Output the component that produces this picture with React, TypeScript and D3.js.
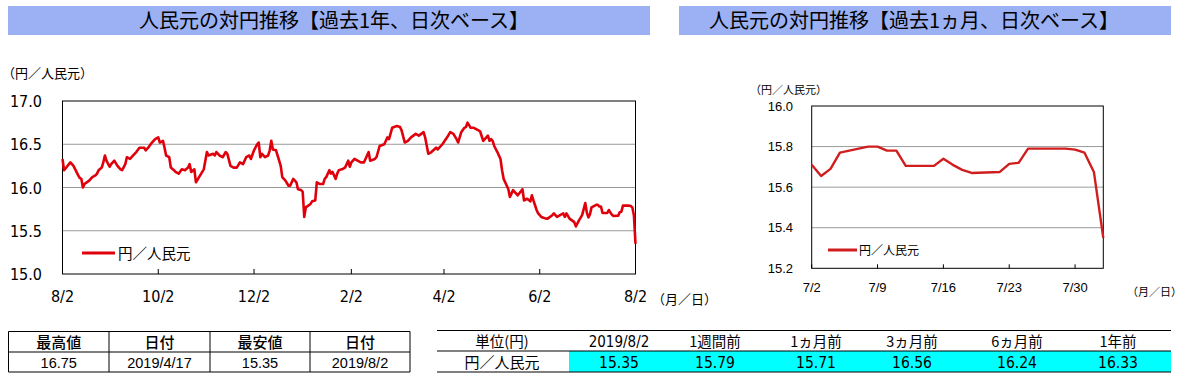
import React from "react";
import * as d3 from "d3";

// ---------- data ----------
const yearDates = [
  "2018-08-02","2018-08-03","2018-08-07","2018-08-09","2018-08-12","2018-08-13","2018-08-14","2018-08-15","2018-08-16","2018-08-19",
  "2018-08-21","2018-08-23","2018-08-24","2018-08-25","2018-08-27","2018-08-28","2018-08-29","2018-08-30","2018-09-01","2018-09-02",
  "2018-09-04","2018-09-06","2018-09-08","2018-09-09","2018-09-11","2018-09-12","2018-09-14","2018-09-16","2018-09-18","2018-09-20",
  "2018-09-23","2018-09-24","2018-09-26","2018-09-28","2018-09-30","2018-10-02","2018-10-03","2018-10-05","2018-10-06","2018-10-07",
  "2018-10-09","2018-10-10","2018-10-12","2018-10-13","2018-10-15","2018-10-17","2018-10-19","2018-10-21","2018-10-22","2018-10-23",
  "2018-10-25","2018-10-26","2018-10-28","2018-10-30","2018-10-31","2018-11-02","2018-11-03","2018-11-06","2018-11-07","2018-11-08",
  "2018-11-10","2018-11-12","2018-11-14","2018-11-15","2018-11-17","2018-11-19","2018-11-21","2018-11-23","2018-11-25","2018-11-27",
  "2018-11-29","2018-11-30","2018-12-02","2018-12-04","2018-12-05","2018-12-06","2018-12-07","2018-12-09","2018-12-11","2018-12-12",
  "2018-12-13","2018-12-14","2018-12-16","2018-12-17","2018-12-19","2018-12-20","2018-12-22","2018-12-24","2018-12-25","2018-12-27",
  "2018-12-29","2018-12-30","2019-01-01","2019-01-02","2019-01-03","2019-01-04","2019-01-07","2019-01-08","2019-01-10","2019-01-11",
  "2019-01-13","2019-01-15","2019-01-16","2019-01-17","2019-01-19","2019-01-20","2019-01-21","2019-01-23","2019-01-24","2019-01-25",
  "2019-01-27","2019-01-29","2019-01-31","2019-02-01","2019-02-02","2019-02-04","2019-02-06","2019-02-08","2019-02-10","2019-02-13",
  "2019-02-14","2019-02-17","2019-02-18","2019-02-20","2019-02-23","2019-02-24","2019-02-25","2019-02-26","2019-02-28","2019-03-03",
  "2019-03-05","2019-03-06","2019-03-08","2019-03-10","2019-03-12","2019-03-15","2019-03-17","2019-03-20","2019-03-21","2019-03-23",
  "2019-03-25","2019-03-28","2019-03-29","2019-04-01","2019-04-04","2019-04-06","2019-04-08","2019-04-10","2019-04-11","2019-04-13",
  "2019-04-15","2019-04-16","2019-04-17","2019-04-19","2019-04-21","2019-04-24","2019-04-25","2019-04-27","2019-04-28","2019-04-30",
  "2019-05-01","2019-05-02","2019-05-03","2019-05-04","2019-05-06","2019-05-08","2019-05-09","2019-05-10","2019-05-11","2019-05-13",
  "2019-05-14","2019-05-16","2019-05-18","2019-05-19","2019-05-22","2019-05-23","2019-05-25","2019-05-27","2019-05-28","2019-05-29",
  "2019-05-31","2019-06-01","2019-06-03","2019-06-06","2019-06-07","2019-06-10","2019-06-11","2019-06-13","2019-06-15","2019-06-17",
  "2019-06-18","2019-06-19","2019-06-21","2019-06-24","2019-06-25","2019-06-27","2019-06-29","2019-07-01","2019-07-02","2019-07-03",
  "2019-07-04","2019-07-05","2019-07-08","2019-07-09","2019-07-10","2019-07-11","2019-07-12","2019-07-15","2019-07-16","2019-07-17",
  "2019-07-18","2019-07-19","2019-07-22","2019-07-23","2019-07-24","2019-07-25","2019-07-26","2019-07-29","2019-07-30","2019-07-31",
  "2019-08-01","2019-08-02",
];
const yearValues = [
  16.33,16.20,16.29,16.25,16.14,16.11,16.10,16.00,16.04,16.08,
  16.12,16.14,16.16,16.20,16.23,16.29,16.37,16.31,16.24,16.27,
  16.31,16.25,16.21,16.20,16.27,16.35,16.33,16.37,16.41,16.46,
  16.46,16.43,16.47,16.52,16.56,16.58,16.52,16.54,16.46,16.37,
  16.35,16.23,16.20,16.18,16.16,16.21,16.20,16.23,16.27,16.18,
  16.21,16.06,16.12,16.18,16.21,16.41,16.37,16.39,16.37,16.41,
  16.37,16.35,16.41,16.39,16.25,16.23,16.23,16.29,16.27,16.35,
  16.37,16.33,16.43,16.50,16.52,16.35,16.39,16.35,16.37,16.43,
  16.54,16.44,16.43,16.37,16.25,16.12,16.08,16.02,16.02,16.10,
  16.06,15.98,15.97,15.95,15.66,15.77,15.81,15.84,15.85,16.06,
  16.04,16.04,16.10,16.12,16.20,16.16,16.18,16.10,16.16,16.20,
  16.21,16.23,16.31,16.24,16.29,16.33,16.31,16.29,16.29,16.41,
  16.31,16.33,16.35,16.48,16.50,16.54,16.58,16.56,16.69,16.71,
  16.70,16.66,16.52,16.54,16.58,16.62,16.60,16.64,16.58,16.39,
  16.41,16.46,16.44,16.50,16.58,16.64,16.62,16.56,16.52,16.64,
  16.69,16.70,16.75,16.69,16.69,16.66,16.65,16.54,16.56,16.60,
  16.54,16.56,16.54,16.48,16.41,16.33,16.20,16.10,16.06,15.98,
  15.89,15.97,15.93,15.91,15.98,15.85,15.87,15.84,15.91,15.85,
  15.74,15.70,15.66,15.64,15.64,15.68,15.70,15.66,15.68,15.70,
  15.66,15.70,15.64,15.60,15.55,15.62,15.68,15.82,15.71,15.655,
  15.69,15.77,15.80,15.80,15.78,15.78,15.705,15.705,15.74,15.71,
  15.685,15.67,15.675,15.715,15.72,15.79,15.79,15.79,15.785,15.77,
  15.675,15.35,
];

const monthDates = [
  "2019-07-02","2019-07-03","2019-07-04","2019-07-05","2019-07-08","2019-07-09","2019-07-10","2019-07-11","2019-07-12",
  "2019-07-15","2019-07-16","2019-07-17","2019-07-18","2019-07-19","2019-07-22","2019-07-23","2019-07-24","2019-07-25",
  "2019-07-26","2019-07-29","2019-07-30","2019-07-31","2019-08-01","2019-08-02",
];
const monthValues = [
  15.71,15.655,15.69,15.77,15.80,15.80,15.78,15.78,15.705,
  15.705,15.74,15.71,15.685,15.67,15.675,15.715,15.72,15.79,
  15.79,15.79,15.785,15.77,15.675,15.35,
];

const yearTickDates = ["2018-08-02","2018-10-02","2018-12-02","2019-02-02","2019-04-02","2019-06-02","2019-08-02"];
const yearTickLabels = ["8/2","10/2","12/2","2/2","4/2","6/2","8/2"];
const yearYTicks = [15.0, 15.5, 16.0, 16.5, 17.0];

const monthTickDates = ["2019-07-02","2019-07-09","2019-07-16","2019-07-23","2019-07-30"];
const monthTickLabels = ["7/2","7/9","7/16","7/23","7/30"];
const monthYTicks = [15.2, 15.4, 15.6, 15.8, 16.0];

const seriesName = "円／人民元";
const unitLabel = "（円／人民元）";
const dateUnitLabel = "（月／日）";
const titleYear = "人民元の対円推移【過去1年、日次ベース】";
const titleMonth = "人民元の対円推移【過去1ヵ月、日次ベース】";

const statHeaders = ["最高値", "日付", "最安値", "日付"];
const statValues = ["16.75", "2019/4/17", "15.35", "2019/8/2"];

const compHeaders = ["単位(円)", "2019/8/2", "1週間前", "1ヵ月前", "3ヵ月前", "6ヵ月前", "1年前"];
const compRowLabel = "円／人民元";
const compValues = ["15.35", "15.79", "15.71", "16.56", "16.24", "16.33"];

// ---------- styling ----------
const JP = "'Noto Sans CJK JP', 'Noto Sans', sans-serif";
const NARROW = "'Liberation Sans Narrow', 'DejaVu Sans Condensed', 'Liberation Sans', sans-serif";
const ARIAL = "'Liberation Sans', Arial, sans-serif";
const TITLE_BG = "#9BB1F3";
const LINE_RED = "#E0000B";
const LINE_RED2 = "#D01E1E";

const parse = d3.utcParse("%Y-%m-%d");

function fmt1(v: number) {
  return d3.format(".1f")(v);
}

function YearChart() {
  const L = 62.5, R = 635.5, T = 101, B = 274;
  const x = d3.scaleUtc().domain([parse("2018-08-02")!, parse("2019-08-02")!]).range([L, R]);
  const y = d3.scaleLinear().domain([15, 17]).range([B, T]);
  const pts = yearDates.map((d, i) => [parse(d)!, yearValues[i]] as [Date, number]);
  const line = d3.line<[Date, number]>().x(d => x(d[0])).y(d => y(d[1]));
  return (
    <g>
      {yearYTicks.slice(1, -1).map(v => (
        <line key={v} x1={L} x2={R} y1={y(v)} y2={y(v)} stroke="#9a9a9a" strokeWidth={1} />
      ))}
      <rect x={L} y={T} width={R - L} height={B - T} fill="none" stroke="#000" strokeWidth={1} />
      {yearTickDates.map((d, i) => {
        const xx = x(parse(d)!);
        return (
          <g key={d + i}>
            <line x1={xx} x2={xx} y1={B} y2={B - 5} stroke="#000" strokeWidth={1} />
            <text x={xx} y={302} textAnchor="middle" fontFamily={NARROW} fontSize={16}>{yearTickLabels[i]}</text>
          </g>
        );
      })}
      {yearYTicks.map(v => (
        <text key={v} x={42} y={y(v) + 6} textAnchor="end" fontFamily={NARROW} fontSize={16}>{fmt1(v)}</text>
      ))}
      <path d={line(pts) || ""} fill="none" stroke={LINE_RED} strokeWidth={2.6} strokeLinejoin="round" />
      <line x1={82} x2={115} y1={253} y2={253} stroke={LINE_RED} strokeWidth={3} />
      <text x={118} y={258.5} fontFamily={JP} fontSize={14.5}>{seriesName}</text>
      <text x={2} y={78} fontFamily={JP} fontSize={13}>{unitLabel}</text>
      <text x={652} y={304} fontFamily={JP} fontSize={13}>{dateUnitLabel}</text>
    </g>
  );
}

function MonthChart() {
  const L = 811.7, R = 1103.3, T = 106, B = 268.3;
  const x = d3.scaleUtc().domain([parse("2019-07-02")!, parse("2019-08-02")!]).range([L, R]);
  const y = d3.scaleLinear().domain([15.2, 16.0]).range([B, T]);
  const pts = monthDates.map((d, i) => [parse(d)!, monthValues[i]] as [Date, number]);
  const line = d3.line<[Date, number]>().x(d => x(d[0])).y(d => y(d[1]));
  return (
    <g>
      {monthYTicks.slice(1, -1).map(v => (
        <line key={v} x1={L} x2={R} y1={y(v)} y2={y(v)} stroke="#9a9a9a" strokeWidth={1} />
      ))}
      <rect x={L} y={T} width={R - L} height={B - T} fill="none" stroke="#000" strokeWidth={1} />
      {monthTickDates.map((d, i) => {
        const xx = x(parse(d)!);
        return (
          <g key={d}>
            <line x1={xx} x2={xx} y1={B} y2={B - 4} stroke="#000" strokeWidth={1} />
            <text x={xx} y={292} textAnchor="middle" fontFamily={ARIAL} fontSize={13}>{monthTickLabels[i]}</text>
          </g>
        );
      })}
      {monthYTicks.map(v => (
        <text key={v} x={793} y={y(v) + 4.5} textAnchor="end" fontFamily={ARIAL} fontSize={13}>{fmt1(v)}</text>
      ))}
      <path d={line(pts) || ""} fill="none" stroke={LINE_RED2} strokeWidth={2.4} strokeLinejoin="round" />
      <line x1={828} x2={857} y1={250} y2={250} stroke={LINE_RED2} strokeWidth={3} />
      <text x={859} y={254.5} fontFamily={JP} fontSize={12}>{seriesName}</text>
      <text x={750} y={94} fontFamily={JP} fontSize={11}>{unitLabel}</text>
      <text x={1127} y={296} fontFamily={JP} fontSize={11}>{dateUnitLabel}</text>
    </g>
  );
}

function Titles() {
  return (
    <g>
      <rect x={8} y={6} width={642} height={29} fill={TITLE_BG} />
      <text x={334} y={28} textAnchor="middle" fontFamily={JP} fontSize={20}>{titleYear}</text>
      <rect x={679} y={6} width={492} height={29} fill={TITLE_BG} />
      <text x={914} y={28} textAnchor="middle" fontFamily={JP} fontSize={20}>{titleMonth}</text>
    </g>
  );
}

function StatTable() {
  const cols = [8.5, 109, 210, 310, 410];
  const rows = [331.5, 352, 372];
  return (
    <g>
      {rows.map(r => (
        <line key={r} x1={cols[0]} x2={cols[cols.length - 1]} y1={r} y2={r} stroke="#000" strokeWidth={1} />
      ))}
      {cols.map(c => (
        <line key={c} x1={c} x2={c} y1={rows[0]} y2={rows[2]} stroke="#000" strokeWidth={1} />
      ))}
      {statHeaders.map((h, i) => (
        <text key={"h" + i} x={(cols[i] + cols[i + 1]) / 2} y={348} textAnchor="middle" fontFamily={JP} fontSize={15} fontWeight={500}>{h}</text>
      ))}
      {statValues.map((v, i) => (
        <text key={"v" + i} x={(cols[i] + cols[i + 1]) / 2} y={368} textAnchor="middle" fontFamily={ARIAL} fontSize={14.5}>{v}</text>
      ))}
    </g>
  );
}

function CompTable() {
  const left = 437, right = 1171;
  const cyanLeft = 569;
  const centers = [502, 619, 715, 816, 912, 1017, 1118];
  return (
    <g>
      <rect x={cyanLeft} y={351} width={right - cyanLeft} height={21} fill="#00FFFF" />
      {[330.5, 351, 372].map(r => (
        <line key={r} x1={left} x2={right} y1={r} y2={r} stroke="#000" strokeWidth={1} />
      ))}
      {compHeaders.map((h, i) => (
        <text key={"h" + i} x={centers[i]} y={347} textAnchor="middle" fontFamily={i === 1 ? NARROW : JP} fontSize={i === 1 ? 15 : 14.5}>{h}</text>
      ))}
      <text x={centers[0]} y={368} textAnchor="middle" fontFamily={JP} fontSize={15}>{compRowLabel}</text>
      {compValues.map((v, i) => (
        <text key={"v" + i} x={centers[i + 1]} y={368} textAnchor="middle" fontFamily={NARROW} fontSize={15.5}>{v}</text>
      ))}
    </g>
  );
}

export default function App() {
  return (
    <svg width={1182} height={379} style={{ position: "absolute", left: 0, top: 0, background: "#fff" }}>
      <rect x={0} y={0} width={1182} height={379} fill="#fff" />
      <Titles />
      <YearChart />
      <MonthChart />
      <StatTable />
      <CompTable />
    </svg>
  );
}
